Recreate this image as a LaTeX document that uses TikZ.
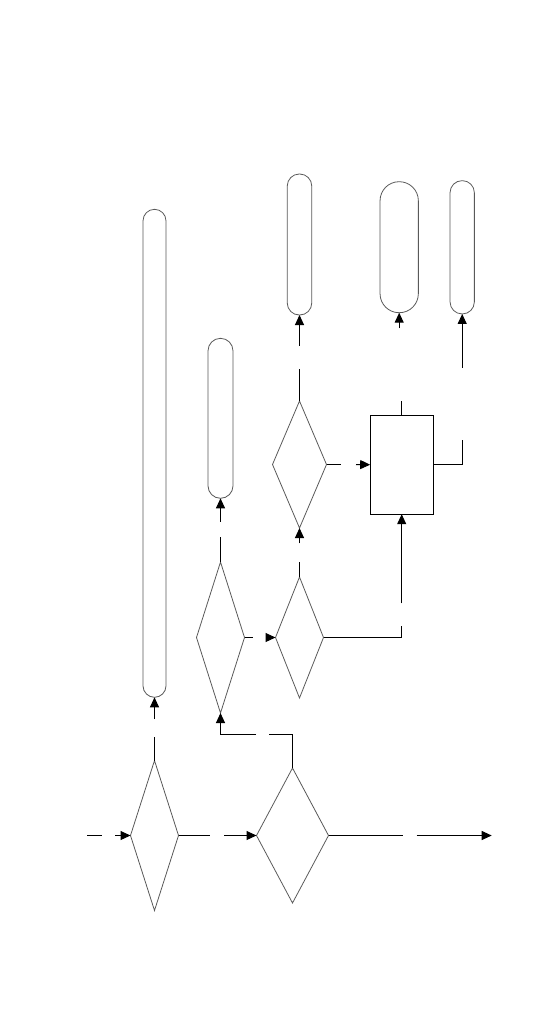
\documentclass[tikz,border=0pt]{standalone}
\usetikzlibrary{shapes.geometric,arrows.meta}
\begin{document}
\begin{tikzpicture}[x=1pt,y=-1pt,
  decision/.style={diamond,draw=black!65,line width=0.8pt,inner sep=0pt,outer sep=0pt},
  pill/.style={rectangle,draw=black!65,line width=0.8pt,inner sep=0pt,outer sep=0pt},
  procbox/.style={rectangle,draw=black,line width=1pt,inner sep=0pt,outer sep=0pt},
  conn/.style={draw=black,line width=1pt},
  arr/.style={conn,-{Triangle[length=10pt,width=9pt]}}]
\useasboundingbox (0,0) rectangle (540,1026);
% decisions
\node[decision,minimum width=48pt,minimum height=150pt] (d1) at (154.5,835.5) {};
\node[decision,minimum width=72pt,minimum height=135pt] (d2) at (292.5,835.5) {};
\node[decision,minimum width=48pt,minimum height=151pt] (d3) at (220.5,637.5) {};
\node[decision,minimum width=48pt,minimum height=121pt] (d4) at (299.5,637.5) {};
\node[decision,minimum width=54pt,minimum height=127pt] (d5) at (299.5,464.5) {};
% process box
\node[procbox,minimum width=63pt,minimum height=99pt] (r) at (401.7,464.7) {};
% terminals
\node[pill,rounded corners=11.5pt,minimum width=23pt,minimum height=488pt] (p1) at (154.5,453.3) {};
\node[pill,rounded corners=12.5pt,minimum width=25pt,minimum height=160pt] (p2) at (220.5,418.3) {};
\node[pill,rounded corners=12pt,minimum width=24.5pt,minimum height=141pt] (p3) at (299.5,244.5) {};
\node[pill,rounded corners=19pt,minimum width=38.3pt,minimum height=131pt] (p4) at (399.2,247.2) {};
\node[pill,rounded corners=12pt,minimum width=24.3pt,minimum height=133.3pt] (p5) at (462.2,247.3) {};
% free ends and gap ends
\coordinate (ina) at (87,835.5);
\coordinate (inb) at (102,835.5);
\coordinate (inc) at (115,835.5);
\coordinate (g2a) at (210,835.5);
\coordinate (g2b) at (224,835.5);
\coordinate (g3a) at (154.5,736.7);
\coordinate (g3b) at (154.5,719);
\coordinate (g4a) at (269,734.5);
\coordinate (g4b) at (256,734.5);
\coordinate (g5a) at (252.7,637.5);
\coordinate (g5b) at (267,637.5);
\coordinate (g6a) at (220.5,536.7);
\coordinate (g6b) at (220.5,521.7);
\coordinate (g7a) at (299.5,561.7);
\coordinate (g7b) at (299.5,543.3);
\coordinate (g8a) at (401.7,626);
\coordinate (g8b) at (401.7,603.3);
\coordinate (g9a) at (340.7,464.5);
\coordinate (g9b) at (356,464.5);
\coordinate (g10a) at (299.5,369);
\coordinate (g10b) at (299.5,345.7);
\coordinate (g11a) at (401.7,400.7);
\coordinate (g11b) at (399.2,328.3);
\coordinate (g12a) at (462.2,440);
\coordinate (g12b) at (462.2,367.7);
\coordinate (g13a) at (402.7,835.5);
\coordinate (g13b) at (416.7,835.5);
\coordinate (out) at (491.7,835.5);
% connectors
\draw[conn] (ina) -- (inb);
\draw[arr] (inc) -- (d1.west);
\draw[conn] (d1.east) -- (g2a);
\draw[arr] (g2b) -- (d2.west);
\draw[conn] (d1.north) -- (g3a);
\draw[arr] (g3b) -- (p1.south);
\draw[conn] (d2.north) |- (g4a);
\draw[arr] (g4b) -| (d3.south);
\draw[conn] (d3.east) -- (g5a);
\draw[arr] (g5b) -- (d4.west);
\draw[conn] (d3.north) -- (g6a);
\draw[arr] (g6b) -- (p2.south);
\draw[conn] (d4.north) -- (g7a);
\draw[arr] (g7b) -- (d5.south);
\draw[conn] (d4.east) -| (g8a);
\draw[arr] (g8b) -- (r.south);
\draw[conn] (d5.east) -- (g9a);
\draw[arr] (g9b) -- (r.west);
\draw[conn] (d5.north) -- (g10a);
\draw[arr] (g10b) -- (p3.south);
\draw[conn] (r.north) -- (g11a);
\draw[arr] (g11b) -- (p4.south);
\draw[conn] (r.east) -| (g12a);
\draw[arr] (g12b) -- (p5.south);
\draw[conn] (d2.east) -- (g13a);
\draw[arr] (g13b) -- (out);
\end{tikzpicture}
\end{document}
